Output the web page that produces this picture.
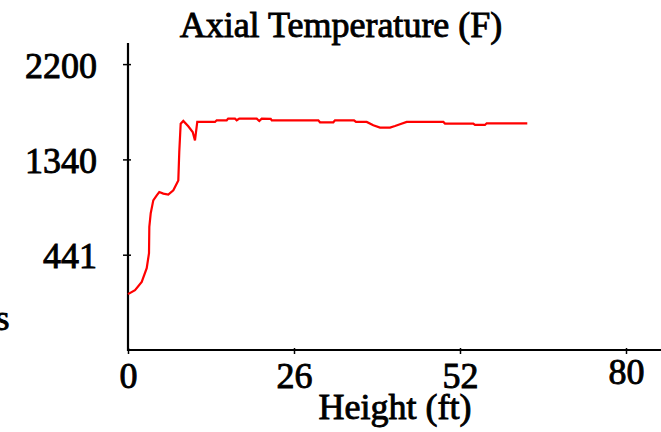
<!DOCTYPE html>
<html>
<head>
<meta charset="utf-8">
<script src="https://cdn.jsdelivr.net/npm/d3@7"></script>
<style>
  body { margin: 0; background: #fff; overflow: hidden; }
  svg { display: block; font-family: "Liberation Serif", "Times New Roman", serif; }
  /* the reference type is heavier than plain Times, thicken it a little */
  svg text { stroke: #000; stroke-width: 0.9px; paint-order: stroke; }
</style>
</head>
<body>
<div id="chart"></div>
<script>
// tick labels as printed on the axes
const xTicks = [0, 26, 52, 80];
const yTicks = [441, 1340, 2200];

// height (ft) and temperature (F)
const heights = [
  0, 1.1, 2.15, 2.93, 3.29, 3.34, 3.56, 3.96, 4.5, 4.9, 5.53, 6.31, 7.1, 7.88,
  8.03, 8.25, 8.66, 9.44, 10.13, 10.49, 10.85, 13.63, 13.89, 15.46, 15.69,
  16.76, 17.03, 17.43, 20.16, 20.56, 20.94, 22.35, 22.51, 29.81, 30.07, 32.16,
  32.42, 35.4, 35.71, 37.39, 38.42, 39.47, 41.04, 41.82, 42.6, 43.65, 49.39,
  49.65, 54.24, 54.53, 56.21, 56.5, 63.35,
];
const temps = [
  69, 107, 185, 314, 455, 703, 832, 954, 1001, 1032, 1017, 1008, 1048, 1142,
  1406, 1663, 1687, 1639, 1587, 1512, 1678, 1678, 1693, 1693, 1708,
  1708, 1693, 1708, 1708, 1687, 1708, 1705, 1693, 1693, 1675, 1675,
  1693, 1693, 1678, 1678, 1648, 1627, 1627, 1641, 1657, 1678, 1678,
  1663, 1663, 1651, 1651, 1666, 1666,
];

const width = 661;
const height = 432;

const x0 = 128;
const xStep = 166;
const yBottom = 350;
const yStep = 95.3;

const svg = d3
  .select("#chart")
  .append("svg")
  .attr("width", width)
  .attr("height", height);

// ticks are evenly spaced even though the labels are not
const xScale = d3
  .scaleLinear()
  .domain(xTicks)
  .range(xTicks.map((d, i) => x0 + i * xStep));

const yScale = d3
  .scaleLinear()
  .domain([-458].concat(yTicks))
  .range([0, 1, 2, 3].map((i) => yBottom - i * yStep));

const axisStyle = (g) => {
  g.select(".domain").remove();
  g.selectAll(".tick line").attr("stroke", "#000").attr("stroke-width", 1.5);
  g.selectAll(".tick text")
    .attr("fill", "#000")
    .style("font-size", "36px")
    .style("font-family", "Liberation Serif, serif");
};

// axis lines
svg
  .append("line")
  .attr("x1", x0)
  .attr("x2", width + 5)
  .attr("y1", yBottom)
  .attr("y2", yBottom)
  .attr("stroke", "#000")
  .attr("stroke-width", 2.2);

svg
  .append("line")
  .attr("x1", x0)
  .attr("x2", x0)
  .attr("y1", 43)
  .attr("y2", yBottom + 1)
  .attr("stroke", "#000")
  .attr("stroke-width", 2.2);

// x axis
const xAxis = svg
  .append("g")
  .attr("transform", `translate(0,${yBottom})`)
  .call(
    d3
      .axisBottom(xScale)
      .tickValues(xTicks)
      .tickFormat(d3.format("d"))
      .tickSizeInner(4)
      .tickSizeOuter(0)
      .tickPadding(0),
  )
  .call(axisStyle);

xAxis.selectAll(".tick line").attr("y1", -2);
xAxis
  .selectAll(".tick text")
  .attr("dy", null)
  .attr("y", (d, i) => (i === xTicks.length - 1 ? 34 : 38));

// y axis
const yAxis = svg
  .append("g")
  .attr("transform", `translate(${x0},0)`)
  .call(
    d3
      .axisLeft(yScale)
      .tickValues(yTicks)
      .tickFormat(d3.format("d"))
      .tickSizeInner(5)
      .tickSizeOuter(0)
      .tickPadding(0),
  )
  .call(axisStyle);

yAxis.selectAll(".tick line").attr("x2", 3).attr("x1", -5);
yAxis
  .selectAll(".tick text")
  .attr("x", -31)
  .attr("dy", null)
  .attr("y", 13);

// the temperature curve
const line = d3
  .line()
  .x((d, i) => xScale(heights[i]))
  .y((d) => yScale(d));

svg
  .append("path")
  .datum(temps)
  .attr("d", line)
  .attr("fill", "none")
  .attr("stroke", "#ff0000")
  .attr("stroke-width", 2.2)
  .attr("stroke-linejoin", "miter");

// labels
svg
  .append("text")
  .attr("x", 341)
  .attr("y", 37)
  .attr("text-anchor", "middle")
  .style("font-size", "36px")
  .text("Axial Temperature (F)");

svg
  .append("text")
  .attr("x", 395)
  .attr("y", 419)
  .attr("text-anchor", "middle")
  .style("font-size", "36px")
  .text("Height (ft)");

// what is left of the y label, cut by the left edge
svg
  .append("text")
  .attr("x", 9.5)
  .attr("y", 330)
  .attr("text-anchor", "end")
  .style("font-size", "36px")
  .text("s");
</script>
</body>
</html>
